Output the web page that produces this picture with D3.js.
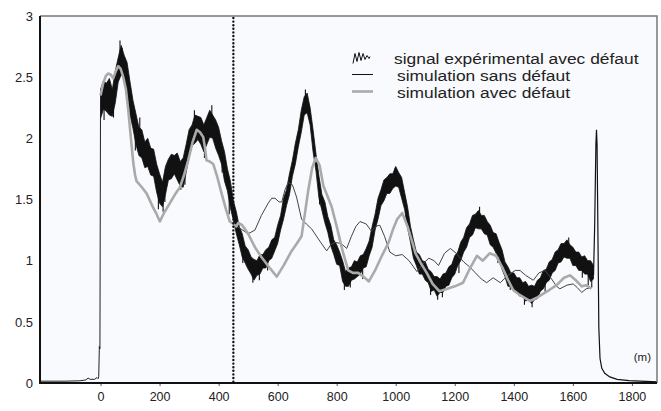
<!DOCTYPE html>
<html>
<head>
<meta charset="utf-8">
<script src="https://cdn.jsdelivr.net/npm/d3@7"></script>
<style>
  body { margin: 0; background: #fff; }
  svg { display: block; font-family: "Liberation Sans", Arial, sans-serif; }
</style>
</head>
<body>
<svg id="chart" width="661" height="411"></svg>
<script>
// axis ticks
const xTicks = [0, 200, 400, 600, 800, 1000, 1200, 1400, 1600, 1800];
const yTicks = [0, 0.5, 1, 1.5, 2, 2.5, 3];
const defectPos = 450;
const legendLabels = ["signal expérimental avec défaut", "simulation sans défaut", "simulation avec défaut"];

// experimental signal: noisy band, sampled every 10 m from 0 to 1670 (upper / lower edge)
const signalDist = d3.range(0, 1680, 10);
const signalHi = [
  2.40, 2.47, 2.45, 2.49, 2.40, 2.55, 2.66, 2.76, 2.68, 2.62,
  2.46, 2.31, 2.20, 2.09, 2.07, 1.97, 2.00, 1.92, 1.91, 1.79,
  1.71, 1.64, 1.77, 1.83, 1.87, 1.86, 1.88, 1.81, 1.84, 1.95,
  2.07, 2.11, 2.19, 2.18, 2.17, 2.11, 2.17, 2.23, 2.19, 2.15,
  2.09, 1.98, 1.89, 1.75, 1.65, 1.49, 1.40, 1.28, 1.22, 1.12,
  1.09, 1.03, 1.01, 1.00, 1.05, 1.05, 1.09, 1.11, 1.17, 1.19,
  1.29, 1.37, 1.51, 1.58, 1.71, 1.82, 1.96, 2.07, 2.23, 2.34,
  2.37, 2.25, 2.07, 1.87, 1.69, 1.54, 1.48, 1.36, 1.29, 1.17,
  1.13, 1.07, 1.00, 0.91, 0.94, 0.95, 1.00, 0.99, 1.04, 1.05,
  1.10, 1.16, 1.28, 1.38, 1.51, 1.58, 1.66, 1.68, 1.71, 1.71,
  1.77, 1.72, 1.68, 1.56, 1.44, 1.28, 1.17, 1.07, 1.05, 1.00,
  0.99, 0.93, 0.91, 0.87, 0.87, 0.85, 0.89, 0.90, 0.95, 0.97,
  1.04, 1.07, 1.15, 1.19, 1.27, 1.30, 1.37, 1.38, 1.41, 1.37,
  1.37, 1.32, 1.29, 1.23, 1.22, 1.15, 1.09, 0.99, 0.95, 0.90,
  0.90, 0.86, 0.86, 0.82, 0.83, 0.79, 0.80, 0.79, 0.84, 0.86,
  0.92, 0.93, 0.99, 1.01, 1.07, 1.09, 1.14, 1.14, 1.17, 1.13,
  1.11, 1.07, 1.07, 1.03, 1.04, 1.00, 1.00, 0.96
];
const signalLo = [
  2.16, 2.24, 2.22, 2.19, 2.18, 2.29, 2.46, 2.52, 2.49, 2.36,
  2.19, 2.08, 1.95, 1.86, 1.84, 1.76, 1.77, 1.70, 1.69, 1.56,
  1.47, 1.44, 1.54, 1.66, 1.67, 1.71, 1.66, 1.61, 1.60, 1.72,
  1.85, 1.94, 1.96, 1.99, 1.95, 1.89, 1.95, 2.01, 2.00, 1.92,
  1.86, 1.79, 1.65, 1.57, 1.43, 1.33, 1.22, 1.13, 1.03, 0.98,
  0.93, 0.89, 0.84, 0.88, 0.89, 0.94, 0.94, 1.00, 1.02, 1.08,
  1.14, 1.25, 1.34, 1.45, 1.54, 1.69, 1.79, 1.93, 2.05, 2.19,
  2.21, 2.11, 1.89, 1.73, 1.51, 1.41, 1.31, 1.23, 1.12, 1.05,
  0.97, 0.96, 0.83, 0.79, 0.79, 0.84, 0.85, 0.87, 0.89, 0.94,
  0.95, 1.04, 1.11, 1.25, 1.34, 1.45, 1.49, 1.55, 1.55, 1.59,
  1.61, 1.60, 1.51, 1.42, 1.27, 1.15, 1.02, 0.96, 0.89, 0.89,
  0.84, 0.82, 0.75, 0.76, 0.71, 0.74, 0.74, 0.79, 0.80, 0.86,
  0.89, 0.96, 1.00, 1.07, 1.11, 1.19, 1.21, 1.27, 1.26, 1.26,
  1.22, 1.21, 1.13, 1.11, 1.06, 1.03, 0.93, 0.87, 0.79, 0.79,
  0.75, 0.75, 0.71, 0.71, 0.67, 0.68, 0.65, 0.68, 0.69, 0.75,
  0.77, 0.82, 0.84, 0.90, 0.92, 0.98, 0.99, 1.03, 1.02, 1.02,
  0.96, 0.96, 0.92, 0.92, 0.89, 0.89, 0.83, 0.85
];
// isolated noise spikes sticking out of the band [distance, value]
const signalSpikes = [
  [12, 2.15], [44, 2.17], [66, 2.80], [73, 2.74], [118, 1.90], [133, 2.17],
  [196, 1.42], [212, 1.40], [218, 1.48], [272, 1.58], [286, 1.62], [318, 2.23],
  [352, 1.84], [377, 2.27], [412, 1.72], [436, 1.38], [482, 0.98], [516, 0.82],
  [538, 0.84], [566, 0.92], [694, 2.40], [742, 1.46], [826, 0.76], [846, 0.78],
  [888, 0.85], [998, 1.76], [1036, 1.38], [1118, 0.72], [1142, 0.68], [1158, 0.70],
  [1214, 0.90], [1284, 1.44], [1346, 0.98], [1388, 0.76], [1436, 0.64], [1462, 0.62],
  [1506, 0.74], [1586, 1.19], [1632, 0.86], [1652, 0.80], [1664, 0.78]
];
// signal before the line entrance and the end reflection
const signalLead = [
  [-205, 0.015], [-120, 0.015], [-70, 0.018], [-50, 0.025], [-42, 0.04], [-35, 0.03],
  [-20, 0.03], [-12, 0.045], [-8, 0.035], [-6, 0.05], [-4, 0.3], [-2, 0.28], [0, 2.3]
];
const signalTail = [
  [1670, 0.88], [1674, 1.3], [1678, 1.95], [1680, 2.07], [1682, 1.95], [1685, 1.2],
  [1688, 0.45], [1692, 0.2], [1698, 0.12], [1708, 0.08], [1725, 0.05], [1750, 0.03],
  [1790, 0.02], [1885, 0.01]
];

// simulations: identical up to the defect, then they split
const simCommon = [
  [0, 2.35], [9, 2.45], [18, 2.51], [26, 2.53], [35, 2.52], [43, 2.49], [52, 2.55],
  [60, 2.59], [68, 2.57], [77, 2.50], [86, 2.40], [94, 2.23], [103, 2.00], [111, 1.80],
  [117, 1.70], [122, 1.65], [140, 1.60], [156, 1.55], [175, 1.45], [190, 1.38],
  [201, 1.32], [215, 1.39], [235, 1.47], [252, 1.54], [269, 1.60], [283, 1.70],
  [297, 1.82], [312, 1.97], [326, 2.07], [337, 2.05], [348, 2.01], [354, 1.92],
  [359, 1.82], [370, 1.81], [382, 1.79], [396, 1.68], [410, 1.55], [425, 1.42],
  [438, 1.32], [450, 1.30]
];
const simAvecTail = [
  [460, 1.28], [467, 1.31], [480, 1.29], [500, 1.22], [523, 1.11], [545, 1.03],
  [570, 0.95], [597, 0.87], [620, 0.96], [645, 1.07], [665, 1.14], [681, 1.20],
  [692, 1.38], [704, 1.58], [717, 1.76], [729, 1.84], [742, 1.78], [755, 1.61],
  [770, 1.52], [783, 1.44], [800, 1.28], [820, 1.08], [839, 0.92], [855, 0.90],
  [873, 0.90], [895, 0.86], [909, 0.83], [930, 0.92], [955, 1.05], [976, 1.15],
  [990, 1.25], [1005, 1.34], [1022, 1.39], [1040, 1.28], [1055, 1.16], [1067, 1.06],
  [1085, 0.98], [1105, 0.90], [1125, 0.81], [1148, 0.75], [1175, 0.77], [1200, 0.79],
  [1228, 0.82], [1250, 0.93], [1275, 1.04], [1295, 1.00], [1318, 1.06], [1340, 1.04],
  [1364, 0.93], [1381, 0.84], [1398, 0.76], [1420, 0.72], [1455, 0.67], [1480, 0.70],
  [1500, 0.73], [1520, 0.76], [1545, 0.80], [1570, 0.86], [1590, 0.88], [1610, 0.84],
  [1630, 0.79], [1645, 0.80], [1663, 0.77]
];
const simSansTail = [
  [475, 1.26], [500, 1.22], [523, 1.25], [545, 1.37], [568, 1.47], [580, 1.51],
  [591, 1.51], [605, 1.48], [614, 1.48], [625, 1.58], [636, 1.64], [650, 1.62],
  [664, 1.52], [681, 1.34], [697, 1.30], [715, 1.26], [740, 1.17], [766, 1.08],
  [780, 1.13], [794, 1.15], [815, 1.14], [834, 1.10], [850, 1.20], [865, 1.28],
  [879, 1.32], [900, 1.30], [918, 1.24], [932, 1.28], [946, 1.29], [962, 1.20],
  [980, 1.07], [1000, 1.04], [1022, 1.05], [1045, 1.00], [1072, 0.91], [1090, 0.97],
  [1112, 1.02], [1130, 1.00], [1145, 0.96], [1165, 1.06], [1185, 1.10], [1205, 1.06],
  [1230, 0.99], [1250, 0.95], [1270, 0.90], [1290, 0.85], [1308, 0.82], [1330, 0.86],
  [1354, 0.82], [1380, 0.88], [1405, 0.92], [1421, 0.92], [1440, 0.88], [1466, 0.84],
  [1485, 0.90], [1506, 0.92], [1525, 0.86], [1545, 0.79], [1556, 0.77], [1580, 0.80],
  [1601, 0.81], [1615, 0.78], [1630, 0.74], [1645, 0.77], [1663, 0.78]
];
const simAvec = simCommon.concat(simAvecTail);
const simSans = simCommon.concat(simSansTail);

const svg = d3.select("#chart");
const mLeft = 40, mRight = 657, mTop = 16, mBottom = 383;

const x = d3.scaleLinear().domain([-205, 1885]).range([mLeft, mRight]);
const y = d3.scaleLinear().domain([0, 3]).range([mBottom, mTop]);

svg.append("rect")
  .attr("x", mLeft).attr("y", mTop)
  .attr("width", mRight - mLeft).attr("height", mBottom - mTop)
  .attr("fill", "#f8fafd");

const line = d3.line().x(d => x(d[0])).y(d => y(d[1]));

// experimental signal
const band = signalDist.map((d, i) => [d, signalLo[i], signalHi[i]]);
svg.append("path")
  .datum(band)
  .attr("d", d3.area().x(d => x(d[0])).y0(d => y(d[1])).y1(d => y(d[2])))
  .attr("fill", "#111")
  .attr("stroke", "#111")
  .attr("stroke-width", 0.8);
svg.append("g")
  .selectAll("line")
  .data(signalSpikes)
  .join("line")
  .attr("x1", d => x(d[0])).attr("x2", d => x(d[0]))
  .attr("y1", d => {
    const i = Math.round(d[0] / 10);
    return y((signalLo[i] + signalHi[i]) / 2);
  })
  .attr("y2", d => y(d[1]))
  .attr("stroke", "#111").attr("stroke-width", 1.1);
svg.append("path")
  .datum(signalLead)
  .attr("d", line)
  .attr("fill", "none").attr("stroke", "#222").attr("stroke-width", 1);
svg.append("path")
  .datum(signalTail)
  .attr("d", line)
  .attr("fill", "none").attr("stroke", "#111").attr("stroke-width", 1.2);

// simulations
svg.append("path")
  .datum(simSans)
  .attr("d", line)
  .attr("fill", "none").attr("stroke", "#444").attr("stroke-width", 1);
svg.append("path")
  .datum(simAvec)
  .attr("d", line)
  .attr("fill", "none").attr("stroke", "#aaa").attr("stroke-width", 2.6)
  .attr("stroke-linejoin", "round");

// defect position
svg.append("line")
  .attr("x1", x(defectPos)).attr("x2", x(defectPos))
  .attr("y1", mTop + 2).attr("y2", mBottom)
  .attr("stroke", "#111").attr("stroke-width", 2.4)
  .attr("stroke-dasharray", "0,3.6").attr("stroke-linecap", "round");

// frame
svg.append("path")
  .attr("d", `M${mLeft},${mTop}H${mRight}V${mBottom}`)
  .attr("fill", "none").attr("stroke", "#777").attr("stroke-width", 1.5);

const fmt = d3.format("");
const xAxis = svg.append("g")
  .attr("transform", `translate(0,${mBottom})`)
  .call(d3.axisBottom(x).tickValues(xTicks).tickFormat(fmt).tickSize(3).tickSizeOuter(0).tickPadding(6));
xAxis.select(".domain").remove();
xAxis.selectAll("text").attr("font-size", 12.5).attr("fill", "#222").attr("font-family", null);
xAxis.selectAll("line").attr("stroke", "#555");

const yAxis = svg.append("g")
  .attr("transform", `translate(${mLeft},0)`)
  .call(d3.axisLeft(y).tickValues(yTicks).tickFormat(fmt).tickSize(0).tickPadding(7));
yAxis.select(".domain").remove();
yAxis.selectAll("text").attr("font-size", 13).attr("fill", "#222").attr("font-family", null);

svg.append("path")
  .attr("d", `M${mLeft},${mTop}V${mBottom}H${mRight}`)
  .attr("fill", "none").attr("stroke", "#111").attr("stroke-width", 2);

svg.append("text")
  .attr("x", mRight - 6).attr("y", mBottom - 22)
  .attr("text-anchor", "end").attr("font-size", 11.5).attr("fill", "#222")
  .text("(m)");

// legend (text is slightly stretched horizontally, as in the original figure)
const lg = svg.append("g").attr("transform", "translate(352,58.5)");
const rowH = 17;
lg.append("path")
  .attr("d", "M1,5 L3,-5 L5,3 L7,-6 L9,2 L11,-5 L13,1 L15,-3 L17,0 L18,-2")
  .attr("fill", "none").attr("stroke", "#111").attr("stroke-width", 1);
lg.append("line").attr("x1", 0).attr("x2", 21).attr("y1", rowH - 1).attr("y2", rowH - 1)
  .attr("stroke", "#111").attr("stroke-width", 1);
lg.append("line").attr("x1", 0).attr("x2", 21).attr("y1", rowH * 2 - 1).attr("y2", rowH * 2 - 1)
  .attr("stroke", "#aaa").attr("stroke-width", 2.6);
lg.selectAll("text.lab")
  .data(legendLabels)
  .join("text")
  .attr("class", "lab")
  .attr("transform", (d, i) => `translate(${i === 0 ? 42 : 45},${i * rowH}) scale(1.2,1)`)
  .attr("dy", "0.35em")
  .attr("font-size", 14.5)
  .attr("fill", "#222")
  .text(d => d);
</script>
</body>
</html>
